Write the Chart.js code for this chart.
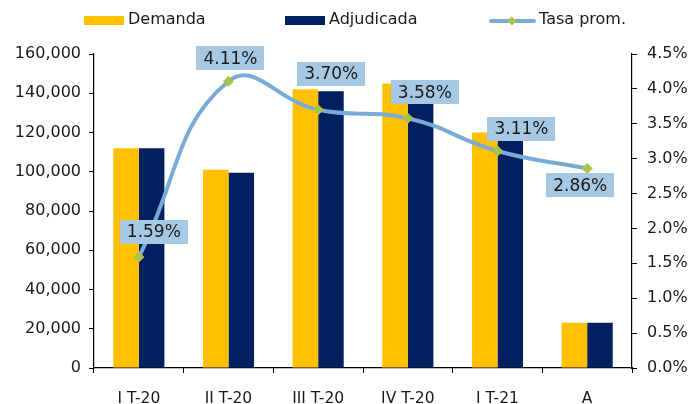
<!DOCTYPE html>
<html>
<head>
<meta charset="utf-8">
<script src="https://cdn.jsdelivr.net/npm/chart.js@4/dist/chart.umd.min.js"></script>
<style>
  html, body { margin: 0; padding: 0; background: #fff; }
  #wrap { width: 696px; height: 404px; position: relative; }
</style>
</head>
<body>
<div id="wrap"><canvas id="chart"></canvas></div>
<script>
// chart data
const categories = ['I T-20', 'II T-20', 'III T-20', 'IV T-20', 'I T-21', 'A'];
const demanda = [112000, 101000, 142000, 145000, 120000, 23000];
const adjudicada = [112000, 99500, 141000, 136000, 116000, 23000];
const tasaProm = [1.59, 4.11, 3.70, 3.58, 3.11, 2.86];

const leftTicks = { min: 0, max: 160000, step: 20000 };
const rightTicks = { min: 0, max: 4.5, step: 0.5 };

const FONT = 'DejaVu Sans, Verdana, sans-serif';
const TEXT = '#1a1a1a';
const LINE_COLOR = '#78ACD6';
const BOX_COLOR = '#A7C8E3';

// where each rate label sits relative to its point (dx, dy of box center)
const labelOffsets = [[15, -25], [2, -23], [13, -36], [17, -26], [24, -22], [-7, 17]];

const rateLabels = {
    id: 'rateLabels',
    afterDatasetsDraw(chart) {
        const meta = chart.getDatasetMeta(2);
        const ctx = chart.ctx;
        ctx.save();
        ctx.font = '17px ' + FONT;
        ctx.textAlign = 'center';
        ctx.textBaseline = 'middle';
        meta.data.forEach(function (pt, i) {
            const txt = tasaProm[i].toFixed(2) + '%';
            const cx = pt.x + labelOffsets[i][0];
            const cy = pt.y + labelOffsets[i][1];
            const w = ctx.measureText(txt).width + 14;
            const h = 24;
            ctx.fillStyle = BOX_COLOR;
            ctx.fillRect(Math.round(cx - w / 2), Math.round(cy - h / 2), Math.round(w), h);
            ctx.fillStyle = TEXT;
            ctx.fillText(txt, cx, cy + 1);
        });
        ctx.restore();
    }
};

const topLegend = {
    id: 'topLegend',
    afterDraw(chart) {
        const ctx = chart.ctx;
        const ds = chart.data.datasets;
        const y = 20;
        ctx.save();
        ctx.font = '16px ' + FONT;
        ctx.textBaseline = 'middle';
        ctx.textAlign = 'left';

        // bar items
        [[84, 0], [285, 1]].forEach(function (it) {
            ctx.fillStyle = ds[it[1]].backgroundColor;
            ctx.fillRect(it[0], y - 4, 40, 9);
            ctx.fillStyle = TEXT;
            ctx.fillText(ds[it[1]].label, it[0] + 44, y);
        });

        // line item
        ctx.strokeStyle = LINE_COLOR;
        ctx.lineWidth = 4;
        ctx.lineCap = 'round';
        ctx.beginPath();
        ctx.moveTo(491, y + 1);
        ctx.lineTo(534, y + 1);
        ctx.stroke();
        ctx.fillStyle = ds[2].pointBackgroundColor;
        ctx.strokeStyle = ds[2].pointBorderColor;
        ctx.lineWidth = 1;
        ctx.beginPath();
        ctx.moveTo(512, y - 3);
        ctx.lineTo(516, y + 1);
        ctx.lineTo(512, y + 5);
        ctx.lineTo(508, y + 1);
        ctx.closePath();
        ctx.fill();
        ctx.stroke();
        ctx.fillStyle = TEXT;
        ctx.fillText(ds[2].label, 539, y);
        ctx.restore();
    }
};

function initChart() {
    const ctx = document.getElementById('chart');
    new Chart(ctx, {
        data: {
            labels: categories,
            datasets: [
                {
                    type: 'bar',
                    label: 'Demanda',
                    data: demanda,
                    yAxisID: 'y',
                    backgroundColor: '#FFC000',
                    barPercentage: 1,
                    categoryPercentage: 0.57,
                    order: 1
                },
                {
                    type: 'bar',
                    label: 'Adjudicada',
                    data: adjudicada,
                    yAxisID: 'y',
                    backgroundColor: '#002060',
                    barPercentage: 1,
                    categoryPercentage: 0.57,
                    order: 1
                },
                {
                    type: 'line',
                    label: 'Tasa prom.',
                    data: tasaProm,
                    yAxisID: 'y2',
                    borderColor: LINE_COLOR,
                    borderWidth: 4,
                    tension: 0.45,
                    pointStyle: 'rectRot',
                    pointRadius: 5,
                    pointBackgroundColor: '#9BC94E',
                    pointBorderColor: '#E0B030',
                    pointBorderWidth: 1,
                    order: 0
                }
            ]
        },
        options: {
            responsive: false,
            animation: false,
            layout: { padding: { top: 54, left: 0, right: 0, bottom: 0 } },
            plugins: {
                legend: { display: false },
                tooltip: { enabled: false }
            },
            scales: {
                x: {
                    grid: { display: true, drawOnChartArea: false, offset: true, tickLength: 5, color: '#000' },
                    border: { color: '#000', width: 1.2 },
                    ticks: { color: TEXT, font: { family: FONT, size: 15.5 }, padding: 17, maxRotation: 0 },
                    afterFit: function (s) { s.height = 36; }
                },
                y: {
                    position: 'left',
                    min: leftTicks.min,
                    max: leftTicks.max,
                    grid: { display: true, drawOnChartArea: false, tickLength: 5, color: '#000' },
                    border: { color: '#000', width: 1.2 },
                    ticks: {
                        stepSize: leftTicks.step,
                        color: TEXT,
                        font: { family: FONT, size: 16 },
                        padding: 8,
                        callback: function (v) { return v.toLocaleString('en-US'); }
                    },
                    afterFit: function (s) { s.width = 94; }
                },
                y2: {
                    position: 'right',
                    min: rightTicks.min,
                    max: rightTicks.max,
                    grid: { display: true, drawOnChartArea: false, tickLength: 5, color: '#000' },
                    border: { color: '#000', width: 1.2 },
                    ticks: {
                        stepSize: rightTicks.step,
                        color: TEXT,
                        font: { family: FONT, size: 16 },
                        padding: 10,
                        callback: function (v) { return v.toFixed(1) + '%'; }
                    },
                    afterFit: function (s) { s.width = 64; }
                }
            }
        },
        plugins: [rateLabels, topLegend]
    });
}

document.getElementById('chart').width = 696;
document.getElementById('chart').height = 404;
initChart();
</script>
</body>
</html>
